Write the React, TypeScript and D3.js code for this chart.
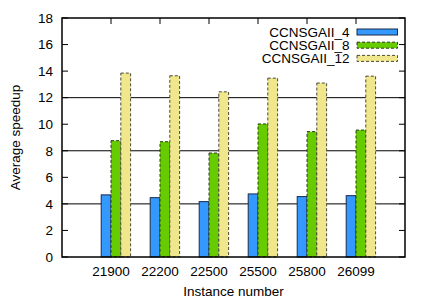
import React from "react";
import * as d3 from "d3";

const categories = ["21900", "22200", "22500", "25500", "25800", "26099"];
const seriesNames = ["CCNSGAII_4", "CCNSGAII_8", "CCNSGAII_12"];
const ccnsgaii4 = [4.68, 4.47, 4.17, 4.75, 4.55, 4.62];
const ccnsgaii8 = [8.76, 8.68, 7.83, 10.02, 9.44, 9.56];
const ccnsgaii12 = [13.85, 13.65, 12.44, 13.47, 13.1, 13.62];
const yTicks = [0, 2, 4, 6, 8, 10, 12, 14, 16, 18];
const gridValues = [4, 8, 12];

const W = 432;
const H = 303;
const L = 62, R = 405, T = 18, B = 257;
const FONT = "'Liberation Sans', Arial, Helvetica, sans-serif";
const FS = 13.5;

const styles = [
  { fill: "#3399ff", stroke: "#1a2a4a", dash: "" },
  { fill: "#66cc00", stroke: "#2a3a1a", dash: "3,2" },
  { fill: "#f0e68c", stroke: "#4a4a3a", dash: "3,2" },
];

export default function App() {
  const x = d3.scaleLinear().domain([-1, 6]).range([L, R]);
  const y = d3.scaleLinear().domain([0, 18]).range([B, T]);
  const series = [ccnsgaii4, ccnsgaii8, ccnsgaii12];
  const bw = x(0.2) - x(0);

  return (
    <svg width={W} height={H} style={{ position: "fixed", left: 0, top: 0, background: "#fff" }} fontFamily={FONT}>
      <rect x={0} y={0} width={W} height={H} fill="#fff" />
      {gridValues.map((g) => (
        <line key={g} x1={L} x2={R} y1={y(g)} y2={y(g)} stroke="#000" strokeWidth={1} />
      ))}
      {/* y ticks */}
      {yTicks.map((t) => (
        <g key={t}>
          <line x1={L} x2={L + 6} y1={y(t)} y2={y(t)} stroke="#000" strokeWidth={1} />
          <line x1={R} x2={R - 6} y1={y(t)} y2={y(t)} stroke="#000" strokeWidth={1} />
          <text x={53} y={y(t)} dy="0.35em" textAnchor="end" fontSize={FS} fill="#000">{t}</text>
        </g>
      ))}
      {/* x ticks */}
      {categories.map((c, i) => (
        <g key={c}>
          <line x1={x(i)} x2={x(i)} y1={T} y2={T + 6} stroke="#000" strokeWidth={1} />
          <line x1={x(i)} x2={x(i)} y1={B} y2={B - 6} stroke="#000" strokeWidth={1} />
          <text x={x(i)} y={276} textAnchor="middle" fontSize={FS} fill="#000">{c}</text>
        </g>
      ))}
      {/* bars */}
      {series.map((vals, s) =>
        vals.map((v, i) => (
          <rect
            key={`${s}-${i}`}
            x={x(i - 0.2 + 0.2 * s)}
            y={y(v)}
            width={bw}
            height={y(0) - y(v)}
            fill={styles[s].fill}
            stroke={styles[s].stroke}
            strokeWidth={1}
            strokeDasharray={styles[s].dash || undefined}
          />
        ))
      )}
      {/* border */}
      <rect x={L} y={T} width={R - L} height={B - T} fill="none" stroke="#000" strokeWidth={1.5} />
      {/* legend */}
      {seriesNames.map((n, s) => {
        const cy = 32 + s * 13.2;
        return (
          <g key={n}>
            <rect x={357} y={cy - 3} width={40.5} height={6} fill={styles[s].fill} stroke={styles[s].stroke}
              strokeWidth={1} strokeDasharray={styles[s].dash || undefined} />
            <text x={349.5} y={cy} dy="0.35em" textAnchor="end" fontSize={FS} fill="#000">{n}</text>
          </g>
        );
      })}
      {/* axis labels */}
      <text x={(L + R) / 2} y={296} textAnchor="middle" fontSize={FS} fill="#000">Instance number</text>
      <text transform={`translate(19.5, ${(T + B) / 2}) rotate(-90)`} textAnchor="middle" fontSize={FS} fill="#000">Average speedup</text>
    </svg>
  );
}
